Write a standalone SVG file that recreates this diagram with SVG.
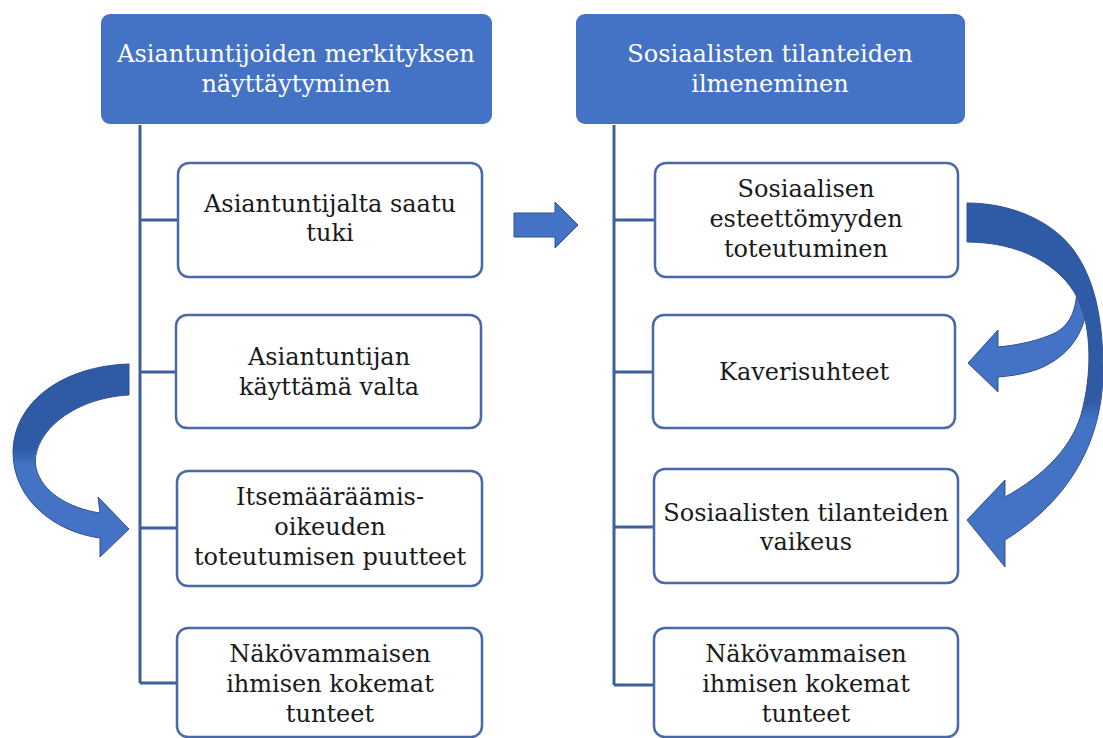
<svg xmlns="http://www.w3.org/2000/svg" width="1103" height="738" viewBox="0 0 1103 738">
  <style>
    .hdr { fill: #4472C4; }
    .hdrtxt { fill: #ffffff; font-family: "DejaVu Serif", "Liberation Serif", serif; font-size: 24px; text-anchor: middle; }
    .box { fill: #ffffff; stroke: #4A69A8; stroke-width: 2.5; }
    .txt { fill: #1a1a1a; font-family: "DejaVu Serif", "Liberation Serif", serif; font-size: 24px; text-anchor: middle; }
    .conn { fill: none; stroke: #3F5E9E; stroke-width: 3; }
    .arrow { stroke: #2F528F; stroke-width: 1; }
  </style>
  <defs>
    <linearGradient id="gL" gradientUnits="userSpaceOnUse" x1="0" y1="364" x2="0" y2="557">
      <stop offset="0" stop-color="#2E5AA6"/>
      <stop offset="0.44" stop-color="#2E5AA6"/>
      <stop offset="0.52" stop-color="#4472C4"/>
      <stop offset="1" stop-color="#4472C4"/>
    </linearGradient>
    <linearGradient id="gR" gradientUnits="userSpaceOnUse" x1="0" y1="203" x2="0" y2="570">
      <stop offset="0" stop-color="#2E5AA6"/>
      <stop offset="0.54" stop-color="#2E5AA6"/>
      <stop offset="0.59" stop-color="#4472C4"/>
      <stop offset="1" stop-color="#4472C4"/>
    </linearGradient>
  </defs>
  <rect width="1103" height="738" fill="#ffffff"/>

  <g id="connectors">
    <path class="conn" d="M140,125 V683 M140,220 H178 M140,372 H176 M140,528 H177 M140,683 H177"/>
    <path class="conn" d="M614,125 V685 M614,220 H655 M614,372 H653 M614,527 H654 M614,685 H654"/>
    <path id="arrow-straight" class="arrow" fill="#4472C4" d="M514,213 L555,213 L555,202 L578,225 L555,248 L555,237 L514,237 Z"/>
    <path id="arrow-left-curved" class="arrow" fill="url(#gL)" d="M129,364 C65,366 14,400 13,452 C13,500 55,532 100,538 L100,557 L129,529 L98,497 L100,513 C68,508 42,492 36,468 C30,436 70,398 129,395 Z"/>
    <path id="arrow-right-small" class="arrow" fill="#4472C4" d="M1077,285 L1089,285 C1089,325 1075,352 1043,367 C1030,373 1012,376 998,377 L998,392 L968,363 L998,330 L998,347 C1020,345 1040,340 1055,333 C1070,325 1077,310 1077,285 Z"/>
    <path id="arrow-right-big" class="arrow" fill="url(#gR)" d="M967,203 C1010,203 1050,220 1072,248 C1095,278 1103,320 1103,370 C1103,440 1070,500 1005,540 L1005,567 L967,520 L1005,480 L1005,497 C1045,475 1075,445 1083,407 C1093,365 1090,322 1077,297 C1060,265 1020,242 967,242 Z"/>
  </g>

  <g id="header-left">
    <rect class="hdr" x="101" y="14" width="391" height="110" rx="9"/>
    <text class="hdrtxt" x="296" y="62">Asiantuntijoiden merkityksen</text>
    <text class="hdrtxt" x="296" y="92">näyttäytyminen</text>
  </g>
  <g id="header-right">
    <rect class="hdr" x="576" y="14" width="389" height="110" rx="9"/>
    <text class="hdrtxt" x="770" y="62">Sosiaalisten tilanteiden</text>
    <text class="hdrtxt" x="770" y="92">ilmeneminen</text>
  </g>

  <g id="left-1">
    <rect class="box" x="178" y="163" width="304" height="114" rx="11"/>
    <text class="txt" x="330" y="212">Asiantuntijalta saatu</text>
    <text class="txt" x="330" y="241">tuki</text>
  </g>
  <g id="left-2">
    <rect class="box" x="176" y="315" width="305" height="113" rx="11"/>
    <text class="txt" x="329" y="365">Asiantuntijan</text>
    <text class="txt" x="329" y="395">käyttämä valta</text>
  </g>
  <g id="left-3">
    <rect class="box" x="177" y="471" width="305" height="115" rx="11"/>
    <text class="txt" x="330" y="505">Itsemääräämis-</text>
    <text class="txt" x="330" y="535">oikeuden</text>
    <text class="txt" x="330" y="565">toteutumisen puutteet</text>
  </g>
  <g id="left-4">
    <rect class="box" x="177" y="628" width="305" height="109" rx="11"/>
    <text class="txt" x="330" y="662">Näkövammaisen</text>
    <text class="txt" x="330" y="692">ihmisen kokemat</text>
    <text class="txt" x="330" y="722">tunteet</text>
  </g>

  <g id="right-1">
    <rect class="box" x="655" y="163" width="303" height="114" rx="11"/>
    <text class="txt" x="806" y="197">Sosiaalisen</text>
    <text class="txt" x="806" y="227">esteettömyyden</text>
    <text class="txt" x="806" y="257">toteutuminen</text>
  </g>
  <g id="right-2">
    <rect class="box" x="653" y="315" width="302" height="113" rx="11"/>
    <text class="txt" x="804" y="380">Kaverisuhteet</text>
  </g>
  <g id="right-3">
    <rect class="box" x="654" y="469" width="304" height="114" rx="11"/>
    <text class="txt" x="806" y="521">Sosiaalisten tilanteiden</text>
    <text class="txt" x="806" y="550">vaikeus</text>
  </g>
  <g id="right-4">
    <rect class="box" x="654" y="628" width="304" height="109" rx="11"/>
    <text class="txt" x="806" y="662">Näkövammaisen</text>
    <text class="txt" x="806" y="692">ihmisen kokemat</text>
    <text class="txt" x="806" y="722">tunteet</text>
  </g>
</svg>
